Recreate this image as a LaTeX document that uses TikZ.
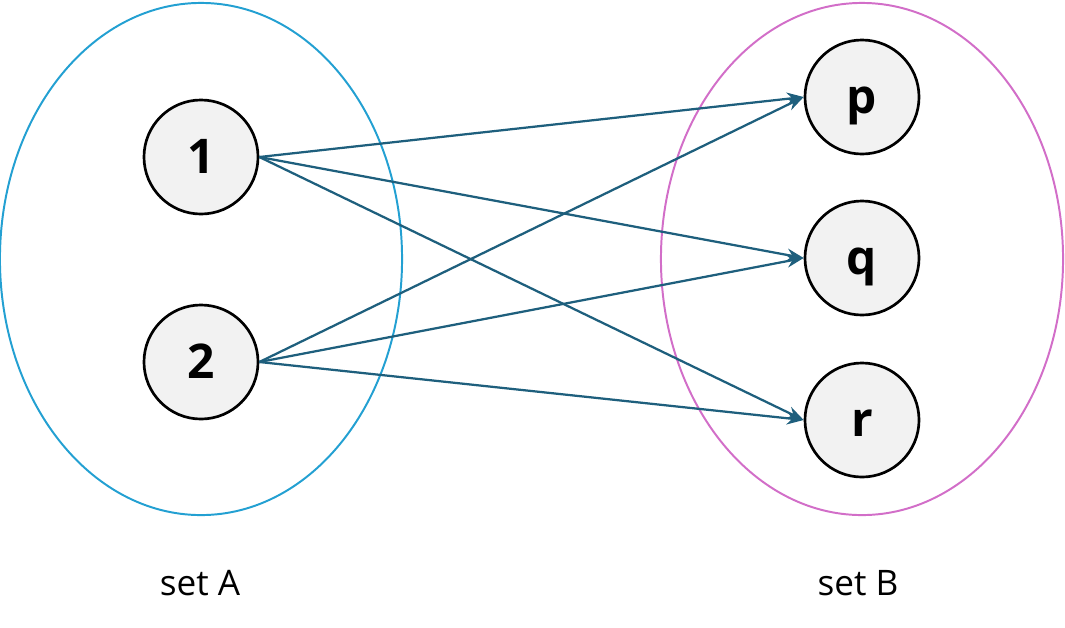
\documentclass[tikz,border=0pt]{standalone}
\usepackage{fontspec}
\setmainfont{Open Sans}
\usepackage{tikz}
\usetikzlibrary{shapes.geometric, arrows.meta, positioning, calc}
\definecolor{setblue}{RGB}{35,160,210}
\definecolor{setpink}{RGB}{210,110,200}
\definecolor{linkteal}{RGB}{30,95,125}
\definecolor{elemgray}{RGB}{242,242,242}

\begin{document}
\begin{tikzpicture}[
    x=0.025cm, y=-0.025cm,
    setring/.style={ellipse, draw, line width=1.4pt, minimum width=10.05cm, minimum height=12.8cm},
    elem/.style={circle, draw, line width=1.9pt, fill=elemgray, minimum size=2.85cm, inner sep=0pt, text height=0.8cm, text depth=0cm, font=\fontsize{34}{34}\selectfont\bfseries},
    setlabel/.style={font=\fontsize{25}{25}\selectfont},
    arrow/.style={-{Stealth[length=12pt, width=9pt]}, line width=1.6pt, draw=linkteal}
]
\useasboundingbox (0,0) rectangle (1065,627);

% Sets
\node [setring, draw=setblue] (setA) at (201,259) {};
\node [setring, draw=setpink] (setB) at (862,259) {};
\node [setlabel] (labA) at (200,583) {set A};
\node [setlabel] (labB) at (858,583) {set B};

% Nodes
\node [elem] (one) at (201,157) {1};
\node [elem] (two) at (201,362) {2};
\node [elem] (p) at (862,97) {p};
\node [elem] (q) at (862,258) {q};
\node [elem] (r) at (862,420) {r};

% Paths
\draw [arrow] (one.east) -- (p.west);
\draw [arrow] (one.east) -- (q.west);
\draw [arrow] (one.east) -- (r.west);
\draw [arrow] (two.east) -- (p.west);
\draw [arrow] (two.east) -- (q.west);
\draw [arrow] (two.east) -- (r.west);

\end{tikzpicture}
\end{document}
